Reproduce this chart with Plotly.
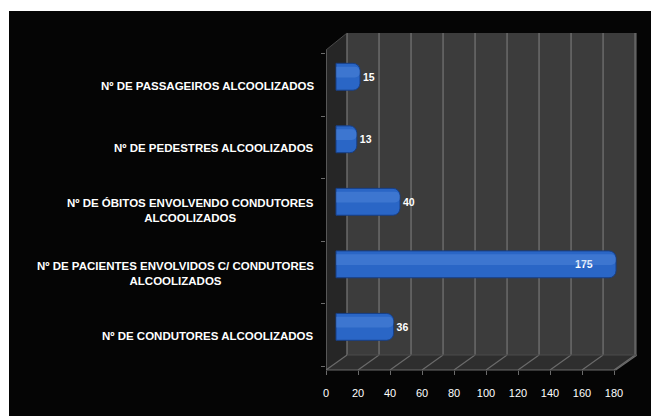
import plotly.graph_objects as go

# ---- data (bottom to top) ----
categories = [
    "Nº DE CONDUTORES ALCOOLIZADOS",
    "Nº DE PACIENTES ENVOLVIDOS C/ CONDUTORES<br>ALCOOLIZADOS",
    "Nº DE ÓBITOS ENVOLVENDO CONDUTORES<br>ALCOOLIZADOS",
    "Nº DE PEDESTRES ALCOOLIZADOS",
    "Nº DE PASSAGEIROS ALCOOLIZADOS",
]
values = [36, 175, 40, 13, 15]
label_positions = ["outside", "inside", "outside", "outside", "outside"]
label_templates = ["%{x}", "%{x}" + "\u00a0" * 7, "%{x}", "%{x}", "%{x}"]
x_ticks = [0, 20, 40, 60, 80, 100, 120, 140, 160, 180]

# ---- geometry / style ----
OFF = 8                      # page body margin
W, H = 659, 416
ML, MR, MT, MB = 318, 30, 25, 54
PW, PH = W - ML - MR, H - MT - MB
X_MIN, X_MAX = -6.25, 188.1          # main (mid-depth) axis range
BACK = 6.9                            # back-wall shift in axis units
FRONT = -6.25                         # front-edge shift in axis units
FLOOR_BACK = 15 / PH                  # paper y of the floor's back edge
WALL_FRONT_TOP = 320 / PH             # paper y of the left wall's front top
Y_MIN, Y_MAX = -0.69, 4.70

def px_to_paper_x(px):               # px in window coordinates
    return (px - OFF - ML) / PW

def px_to_paper_y(py):
    return (H - MB - (py - OFF)) / PH

FONT = "Liberation Sans"
GRID = "#6b6b6b"

fig = go.Figure()

fig.add_trace(go.Bar(
    y=categories, x=values, orientation="h", width=0.43,
    marker=dict(color="#2a66c6", line=dict(color="#173f86", width=1), cornerradius=7),
    text=values, texttemplate=label_templates, textposition=label_positions,
    insidetextanchor="end",
    textfont=dict(color="white", size=10.5, family=FONT, weight="bold"),
    cliponaxis=False, hoverinfo="skip", showlegend=False,
))
fig.add_trace(go.Bar(
    y=categories, x=values, orientation="h", width=0.17, offset=-0.01,
    marker=dict(color="rgba(110,160,235,0.28)", line=dict(width=0), cornerradius=5),
    hoverinfo="skip", showlegend=False,
))
# dummy traces so helper axes get drawn
fig.add_trace(go.Scatter(x=[None], y=[None], xaxis="x2", yaxis="y", showlegend=False, hoverinfo="skip"))
fig.add_trace(go.Scatter(x=[None], y=[None], xaxis="x", yaxis="y2", showlegend=False, hoverinfo="skip"))

shapes = []
# black panel
shapes.append(dict(type="rect", xref="paper", yref="paper", layer="below",
                   x0=px_to_paper_x(9), x1=px_to_paper_x(680),
                   y0=px_to_paper_y(440), y1=px_to_paper_y(11),
                   fillcolor="#050505", line=dict(width=0)))
# back wall
shapes.append(dict(type="path", xref="x", yref="paper", layer="below",
                   path=f"M {BACK},{FLOOR_BACK} L {X_MAX},{FLOOR_BACK} L {X_MAX},1 L {BACK},1 Z",
                   fillcolor="#3c3c3c", line=dict(width=0)))
# left wall
shapes.append(dict(type="path", xref="x", yref="paper", layer="below",
                   path=f"M {FRONT},0 L {BACK},{FLOOR_BACK} L {BACK},1 L {FRONT},{WALL_FRONT_TOP} Z",
                   fillcolor="#262626", line=dict(width=0)))
# floor
front_right = x_ticks[-1] + FRONT + 1
shapes.append(dict(type="path", xref="x", yref="paper", layer="below",
                   path=f"M {FRONT},0 L {front_right},0 L {X_MAX},{FLOOR_BACK} L {BACK},{FLOOR_BACK} Z",
                   fillcolor="#2e2e2e", line=dict(width=0)))
# back-wall gridlines and floor lines
for v in x_ticks:
    shapes.append(dict(type="line", xref="x", yref="paper", layer="below",
                       x0=v + BACK, x1=v + BACK, y0=FLOOR_BACK, y1=1,
                       line=dict(color=GRID, width=1.5)))
    shapes.append(dict(type="line", xref="x", yref="paper", layer="below",
                       x0=v + FRONT, x1=v + BACK, y0=0, y1=FLOOR_BACK,
                       line=dict(color=GRID, width=1.2)))
# edges
shapes.append(dict(type="line", xref="x", yref="paper", layer="below",
                   x0=FRONT, x1=front_right, y0=0, y1=0, line=dict(color=GRID, width=1.2)))
shapes.append(dict(type="line", xref="x", yref="paper", layer="below",
                   x0=front_right, x1=X_MAX, y0=0, y1=FLOOR_BACK, line=dict(color=GRID, width=1.2)))
shapes.append(dict(type="line", xref="x", yref="paper", layer="below",
                   x0=FRONT, x1=FRONT, y0=0, y1=WALL_FRONT_TOP, line=dict(color="#7a7a7a", width=1.2)))
shapes.append(dict(type="line", xref="x", yref="paper", layer="below",
                   x0=FRONT, x1=BACK, y0=WALL_FRONT_TOP, y1=1, line=dict(color="#4a4a4a", width=1)))
shapes.append(dict(type="line", xref="x", yref="paper", layer="below",
                   x0=BACK, x1=X_MAX, y0=FLOOR_BACK, y1=FLOOR_BACK, line=dict(color="#4a4a4a", width=1)))

annotations = []
for c in categories:
    annotations.append(dict(
        x=px_to_paper_x(316), xref="paper", y=c, yref="y",
        xanchor="right", yanchor="middle", align="center", yshift=-9,
        text=c, showarrow=False,
        font=dict(color="white", size=11.5, family=FONT, weight="bold"),
    ))

fig.update_layout(
    width=W, height=H,
    margin=dict(l=ML, r=MR, t=MT, b=MB, pad=0),
    paper_bgcolor="white", plot_bgcolor="rgba(0,0,0,0)",
    barmode="overlay", showlegend=False,
    shapes=shapes, annotations=annotations,
    xaxis=dict(range=[X_MIN, X_MAX], showgrid=False, zeroline=False,
               showticklabels=False, ticks="", showline=False, fixedrange=True),
    xaxis2=dict(overlaying="x", anchor="y", side="bottom",
                range=[X_MIN - FRONT, X_MAX - FRONT],
                tickmode="array", tickvals=x_ticks, ticktext=[str(v) for v in x_ticks],
                ticks="outside", ticklen=4, tickcolor=GRID, tickwidth=1,
                ticklabelstandoff=9,
                tickfont=dict(color="white", size=11, family=FONT),
                showgrid=False, zeroline=False, showline=False),
    yaxis=dict(type="category", categoryorder="array", categoryarray=categories,
               range=[Y_MIN, Y_MAX], showticklabels=False, ticks="",
               showgrid=False, zeroline=False, showline=False),
    yaxis2=dict(overlaying="y", anchor="x", side="left",
                range=[Y_MIN + 0.13, Y_MAX + 0.13],
                tickmode="array", tickvals=[i - 0.5 for i in range(len(categories) + 1)],
                showticklabels=False, ticks="outside", ticklen=4, tickcolor=GRID,
                showgrid=False, zeroline=False, showline=False),
)

fig.write_html("out.html")
